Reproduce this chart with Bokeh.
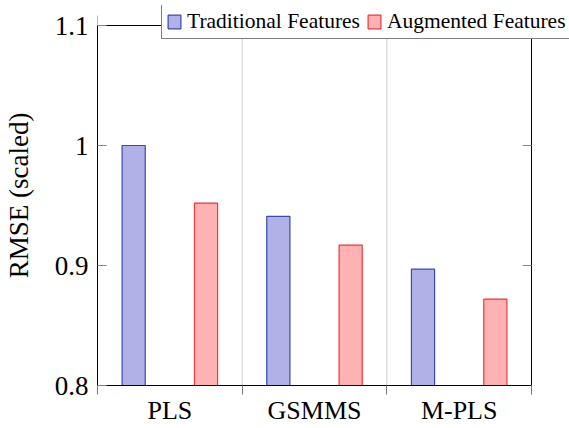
import numpy as np
from bokeh.plotting import figure
from bokeh.models import (ColumnDataSource, Range1d, FixedTicker, LinearAxis,
                          Legend, LegendItem)
from bokeh.transform import dodge
from bokeh.embed import file_html
from bokeh.resources import INLINE

categories = ["PLS", "GSMMS", "M-PLS"]
traditional = [1.000, 0.941, 0.897]
augmented = [0.952, 0.917, 0.872]
y_ticks = [0.8, 0.9, 1.0, 1.1]
y_tick_labels = ["0.8", "0.9", "1", "1.1"]
series_names = ["Traditional Features", "Augmented Features"]

FONT = "Liberation Serif"
YMIN, YMAX = 0.8, 1.1
n = len(categories)
centers = list(np.arange(n) + 0.5)
bounds_x = list(range(n + 1))
src = ColumnDataSource(dict(x=centers, trad=traditional, aug=augmented))

W, H = 569, 428
LEFT, RIGHT_AX, TOP, BOTTOM = 97, 531, 5, 385
PX_Y = 1200.0                       # pixels per y unit
PX_X = (RIGHT_AX - LEFT) / n        # pixels per category
X_END = n + (W - RIGHT_AX) / PX_X   # frame extends to the right edge (legend room)
Y_END = YMAX + (25 - TOP) / PX_Y    # frame extends above 1.1 (legend room)

p = figure(width=W, height=H, output_backend="svg", toolbar_location=None,
           x_range=Range1d(0, X_END), y_range=Range1d(YMIN, Y_END),
           min_border_left=LEFT, min_border_right=0, min_border_top=TOP,
           min_border_bottom=H - BOTTOM, x_axis_type=None, y_axis_type=None)
p.outline_line_color = None
p.background_fill_color = "white"
p.border_fill_color = "white"

# vertical separators between groups
p.segment(x0=bounds_x[1:-1], x1=bounds_x[1:-1], y0=YMIN, y1=YMAX,
          line_color="#cccccc", line_width=1)
# top and right frame lines
p.segment(x0=[0, n], x1=[n, n], y0=[YMAX, YMIN], y1=[YMAX, YMAX],
          line_color="black", line_width=1)
# outer ticks above the top frame
p.segment(x0=bounds_x, x1=bounds_x, y0=YMAX, y1=YMAX + 10 / PX_Y,
          line_color="#777777", line_width=1)
# inward ticks on the right frame
p.segment(x0=[n - 9 / PX_X] * len(y_ticks), x1=[n] * len(y_ticks), y0=y_ticks, y1=y_ticks,
          line_color="#888888", line_width=1)

# x axis (bottom)
xax = LinearAxis(ticker=FixedTicker(ticks=centers, minor_ticks=bounds_x), bounds=(0, n))
xax.major_label_overrides = {c: nm for c, nm in zip(centers, categories)}
xax.major_tick_line_color = None
xax.major_tick_out = 0
xax.major_tick_in = 0
xax.minor_tick_out = 9
xax.minor_tick_in = 0
xax.minor_tick_line_color = "#777777"
xax.axis_line_color = "black"
xax.major_label_standoff = 1
xax.major_label_text_font = FONT
xax.major_label_text_font_size = "26px"
xax.major_label_text_color = "black"
p.add_layout(xax, "below")

# y axis (left)
yax = LinearAxis(ticker=FixedTicker(ticks=y_ticks), bounds=(YMIN, YMAX))
yax.major_label_overrides = {t: l for t, l in zip(y_ticks, y_tick_labels)}
yax.major_tick_in = 9
yax.major_tick_out = 0
yax.minor_tick_line_color = None
yax.major_tick_line_color = "#888888"
yax.axis_line_color = "black"
yax.major_label_standoff = 9
yax.major_label_text_font = FONT
yax.major_label_text_font_size = "27px"
yax.major_label_text_color = "black"
yax.axis_label = "RMSE (scaled)"
yax.axis_label_text_font = FONT
yax.axis_label_text_font_style = "normal"
yax.axis_label_text_font_size = "27px"
yax.axis_label_text_color = "black"
yax.axis_label_standoff = 18
p.add_layout(yax, "left")

r1 = p.vbar(x=dodge("x", -0.25, range=p.x_range), top="trad", bottom=YMIN, width=0.16,
            source=src, fill_color="#b0b1e6", line_color="#3a48b0", line_width=1.2)
r2 = p.vbar(x=dodge("x", 0.25, range=p.x_range), top="aug", bottom=YMIN, width=0.16,
            source=src, fill_color="#ffb2b2", line_color="#e8393c", line_width=1.2)

legend = Legend(items=[LegendItem(label=series_names[0], renderers=[r1]),
                       LegendItem(label=series_names[1], renderers=[r2])],
                orientation="horizontal", location=(161 - LEFT, BOTTOM - 39))
legend.glyph_width = 16
legend.glyph_height = 17
legend.label_standoff = 5
legend.spacing = 6
legend.padding = 4
legend.margin = 0
legend.label_height = 20
legend.border_line_color = "black"
legend.border_line_width = 1
legend.background_fill_color = "white"
legend.background_fill_alpha = 1.0
legend.label_text_font = FONT
legend.label_text_font_size = "21.5px"
legend.label_text_color = "black"
p.add_layout(legend, "center")

open("out.html", "w").write(file_html(p, INLINE))
